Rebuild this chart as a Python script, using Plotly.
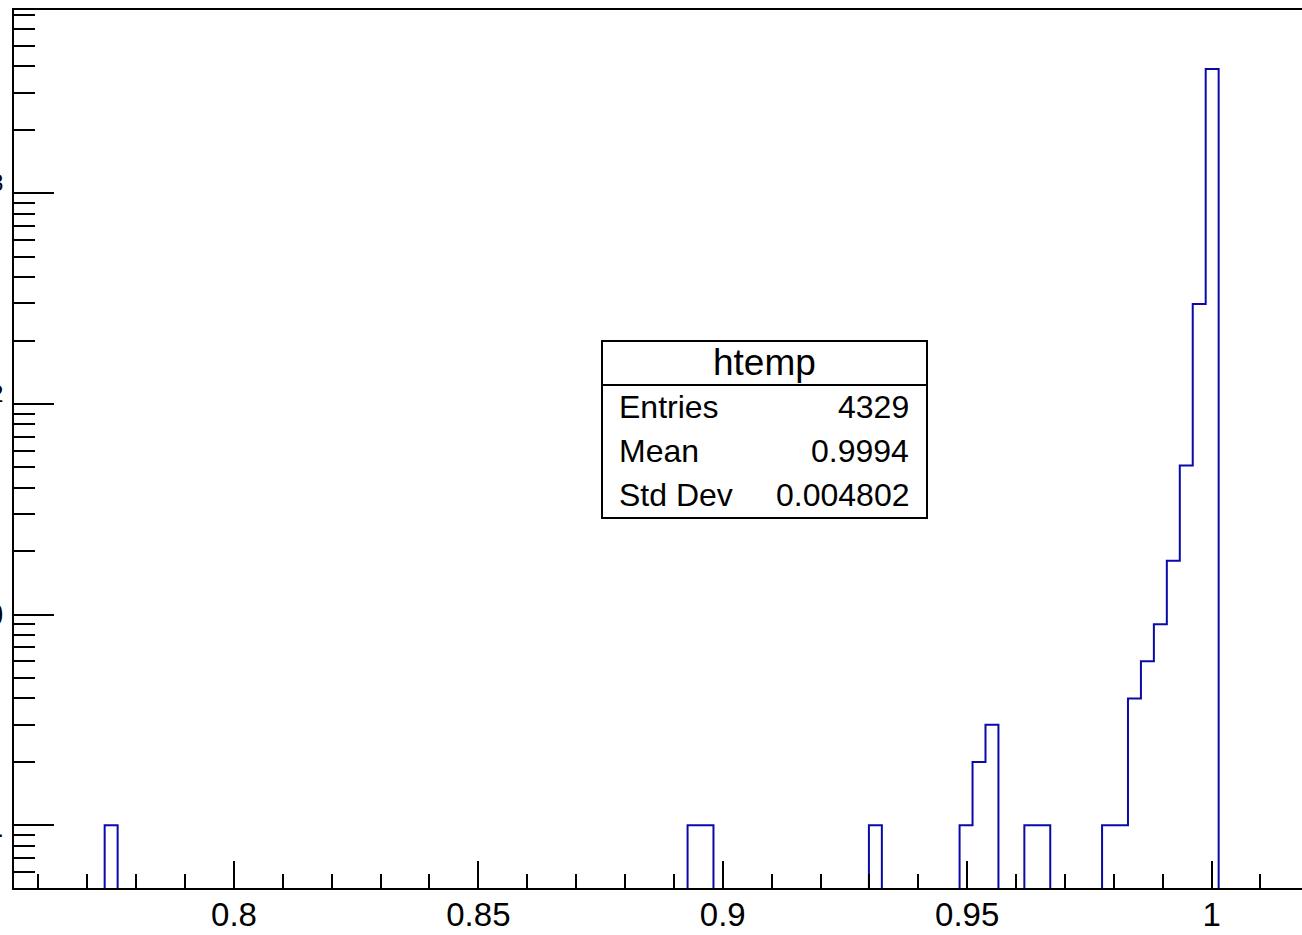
import numpy as np
import plotly.graph_objects as go

# ---- data ----
x_min, x_max_hist, n_bins = 0.755, 1.02, 100
bin_index = [7, 52, 53, 66, 73, 74, 75, 78, 79, 84, 85, 86, 87, 88, 89, 90, 91, 92]
bin_count = [1, 1, 1, 1, 1, 2, 3, 1, 1, 1, 1, 4, 6, 9, 18, 51, 298, 3890]

x_tick_vals = [0.8, 0.85, 0.9, 0.95, 1.0]
x_tick_text = ["0.8", "0.85", "0.9", "0.95", "1"]
y_tick_vals = [1, 10, 100, 1000]
y_tick_text = ["1", "10", "10<sup>2</sup>", "10<sup>3</sup>"]
y_minor_vals = [0.6, 0.7, 0.8, 0.9] + [m * 10 ** d for d in range(0, 4) for m in range(2, 10) if m * 10 ** d < 7300]

stats_title = "htemp"
stats_labels = ["Entries", "Mean", "Std Dev"]
stats_values = ["4329", "0.9994", "0.004802"]

# ---- build step outline ----
width = (x_max_hist - x_min) / n_bins
counts = np.zeros(n_bins)
counts[bin_index] = bin_count
edges = x_min + width * np.arange(n_bins + 1)
floor = 1e-3
y_step = np.where(counts > 0, counts, floor)
xs = np.concatenate([[edges[0]], edges])
ys = np.concatenate([[floor], y_step, [floor]])

W, H = 1302, 935
ml, mr, mt, mb = 14, 0, 10, 47
pw, ph = W - ml - mr, H - mt - mb


def px(x):
    return (x - ml) / pw


def py(y):
    return (H - mb - y) / ph


FONT = "Liberation Sans, Arial, Helvetica, sans-serif"
BLUE = "#0a0aa8"

fig = go.Figure()
fig.add_trace(go.Scatter(x=xs, y=ys, mode="lines", line=dict(shape="hv", color=BLUE, width=2),
                         hoverinfo="skip", showlegend=False))

fig.update_layout(
    width=W, height=H, margin=dict(l=ml, r=mr, t=mt, b=mb, autoexpand=False),
    paper_bgcolor="white", plot_bgcolor="white", showlegend=False,
    font=dict(family=FONT, color="black"),
)
fig.update_xaxes(
    range=[0.755, 0.755 + pw / 4888.0], showgrid=False, zeroline=False, automargin=False,
    showline=True, linecolor="black", linewidth=2, mirror=True,
    ticks="inside", ticklen=27, tickwidth=2, tickcolor="black",
    tickmode="array", tickvals=x_tick_vals, ticktext=x_tick_text,
    tickfont=dict(size=33, family=FONT, color="black"),
    ticklabelstandoff=-4,
    minor=dict(ticks="inside", ticklen=14, tickwidth=2, tickcolor="black", dtick=0.01, tick0=0.8, showgrid=False),
)
fig.update_yaxes(
    type="log", range=[-0.2976, 3.870], showgrid=False, zeroline=False, automargin=False,
    showline=True, linecolor="black", linewidth=2, mirror=False,
    ticks="inside", ticklen=40, tickwidth=2, tickcolor="black",
    tickmode="array", tickvals=y_tick_vals, ticktext=y_tick_text,
    tickfont=dict(size=33, family=FONT, color="black"),
    ticklabelstandoff=2,
    minor=dict(ticks="inside", ticklen=21, tickwidth=2, tickcolor="black", tickmode="array",
               tickvals=y_minor_vals, showgrid=False),
)

# ---- stats box ----
bx0, bx1, by0, by1, bsep = 602, 927, 341, 518, 385
fig.add_shape(type="rect", xref="paper", yref="paper", x0=px(bx0), x1=px(bx1), y0=py(by1), y1=py(by0),
              line=dict(color="black", width=2), fillcolor="white", layer="above")
fig.add_shape(type="line", xref="paper", yref="paper", x0=px(bx0), x1=px(bx1), y0=py(bsep), y1=py(bsep),
              line=dict(color="black", width=2), layer="above")
fig.add_annotation(xref="paper", yref="paper", x=px((bx0 + bx1) / 2), y=py(362), text=stats_title,
                   showarrow=False, xanchor="center", yanchor="middle", font=dict(size=37, family=FONT, color="black"))
row_y = [407, 451, 495]
for lab, val, ry in zip(stats_labels, stats_values, row_y):
    fig.add_annotation(xref="paper", yref="paper", x=px(617), y=py(ry), text=lab, showarrow=False,
                       xanchor="left", yanchor="middle", font=dict(size=32, family=FONT, color="black"))
    fig.add_annotation(xref="paper", yref="paper", x=px(911), y=py(ry), text=val, showarrow=False,
                       xanchor="right", yanchor="middle", font=dict(size=32, family=FONT, color="black"))

fig.write_html("out.html")
